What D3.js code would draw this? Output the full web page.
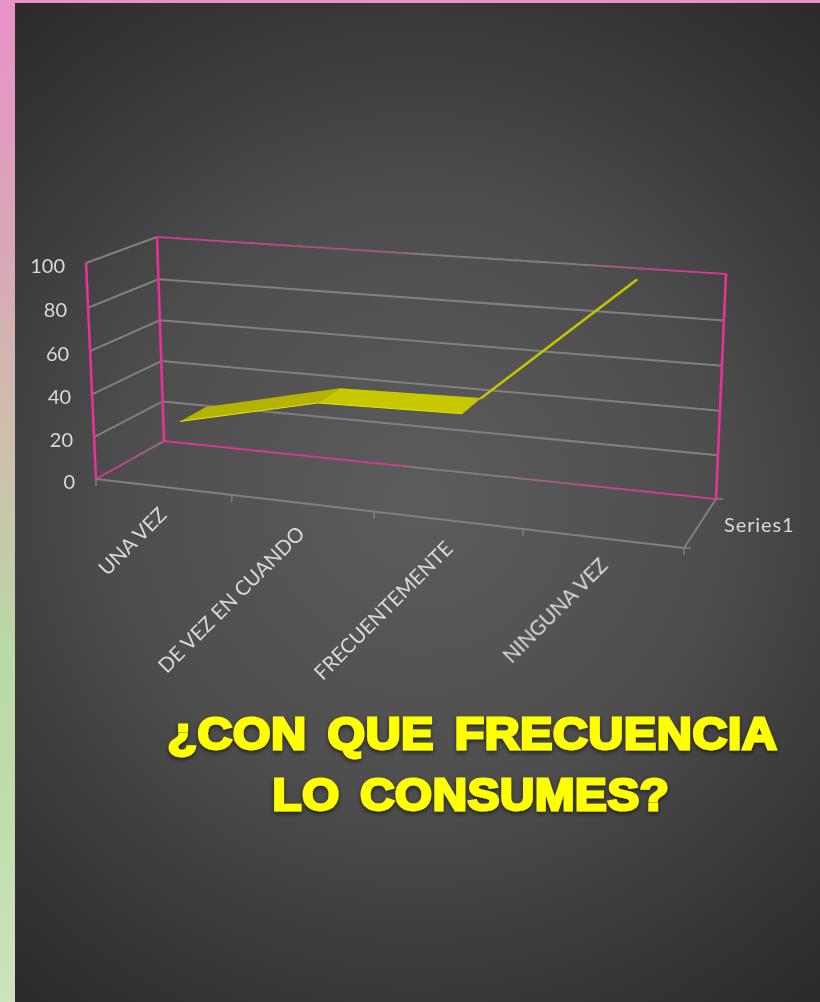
<!DOCTYPE html>
<html><head><meta charset="utf-8">
<script src="https://cdn.jsdelivr.net/npm/d3@7/dist/d3.min.js"></script>
<style>html,body{margin:0;padding:0;background:#333;overflow:hidden}svg{display:block}</style>
</head><body><svg id="c" width="820" height="1002"></svg>
<script>
const categories = ["UNA VEZ","DE VEZ EN CUANDO","FRECUENTEMENTE","NINGUNA VEZ"];
const values = [26,41,42.5,100];
const yTicks = [0,20,40,60,80,100];
const seriesName = "Series1";
const titleLines = ["¿CON QUE FRECUENCIA","LO CONSUMES?"];

const svg = d3.select("#c");
const defs = svg.append("defs");

const strip = defs.append("linearGradient").attr("id","strip").attr("x1",0).attr("y1",0).attr("x2",0).attr("y2",1);
[[0,"#ea92c8"],[.25,"#d9a8b8"],[.41,"#cfbcac"],[.56,"#c4ccaa"],[.64,"#b9daa4"],[.8,"#bfdcaa"],[1,"#cde4bd"]].forEach(d=>strip.append("stop").attr("offset",d[0]).attr("stop-color",d[1]));
const bg = defs.append("radialGradient").attr("id","bg").attr("gradientUnits","userSpaceOnUse").attr("cx",417).attr("cy",500).attr("r",640);
[[0,"#5c5c5c"],[.45,"#4e4e4e"],[.8,"#363636"],[1,"#2b2b2b"]].forEach(d=>bg.append("stop").attr("offset",d[0]).attr("stop-color",d[1]));
svg.append("rect").attr("width",820).attr("height",1002).attr("fill","url(#strip)");
svg.append("rect").attr("width",820).attr("height",3).attr("fill","#ea92c8");
svg.append("rect").attr("x",15).attr("y",3).attr("width",805).attr("height",999).attr("fill","url(#bg)");

const soft=defs.append("filter").attr("id","soft").attr("x","-5%").attr("y","-5%").attr("width","110%").attr("height","110%");
soft.append("feGaussianBlur").attr("stdDeviation",.45);
const chart=svg.append("g").attr("filter","url(#soft)");

const FL0=[96,479], FL1=[86,263], FR0=[684,548], FR1=[695,310];
const BL0=[164,441], BL1=[157,237], BR0=[716,499], BR1=[726,274];
const lerp=(a,b,t)=>[a[0]+(b[0]-a[0])*t,a[1]+(b[1]-a[1])*t];

const uScale=d3.scaleLinear().domain([0,1,2,3,4]).range([0,.231,.473,.726,1]);
const vScale=d3.scaleLinear().domain(yTicks).range([0,.194,.392,.592,.793,1]);
function project(cat,val,w){
  const u=uScale(cat), v=vScale(val);
  const f=lerp(lerp(FL0,FR0,u),lerp(FL1,FR1,u),v);
  const b=lerp(lerp(BL0,BR0,u),lerp(BL1,BR1,u),v);
  return lerp(f,b,w);
}
const line=d3.line();
const GREY="#808080", PINK="#e8309a";
const seg=(a,b,stroke,w=2)=>chart.append("path").attr("d",line([a,b])).attr("fill","none").attr("stroke",stroke).attr("stroke-width",w);
function fade(a,b,stops,w=2){
  const col=d3.scaleLinear().domain(stops.map(s=>s[0])).range(stops.map(s=>s[1])).interpolate(d3.interpolateRgb);
  const n=60;
  d3.range(n).forEach(i=>{
    chart.append("path").attr("d",line([lerp(a,b,i/n),lerp(a,b,(i+1)/n+.002)])).attr("fill","none")
      .attr("stroke",col((i+.5)/n)).attr("stroke-width",w);
  });
}

yTicks.slice(1,-1).forEach(t=>{
  seg(project(0,t,0),project(0,t,1),GREY,2);
  seg(project(0,t,1),project(4,t,1),GREY,2);
});
seg(FL1,BL1,GREY,2);
fade(BL1,BR1,[[0,"#d03c90"],[.4,"#a85288"],[.46,GREY],[.72,GREY],[.85,"#b84c8c"],[1,PINK]],1.8);
fade(BL0,BR0,[[0,PINK],[.42,"#c8408c"],[.46,GREY],[.6,GREY],[.75,"#b84c8c"],[1,PINK]],1.8);
fade(FL0,BL0,[[0,PINK],[.55,"#b44e8c"],[1,GREY]],2);
seg(FL0,FR0,GREY,2);
seg(FR0,BR0,GREY,2);
seg(FL0,FL1,PINK,2.6);
seg(BL0,BL1,PINK,2.6);
seg(BR0,BR1,PINK,2.6);

d3.range(0,5).forEach(i=>{const p=project(i,0,0);seg(p,[p[0],p[1]+7],GREY,1.5);});
seg(FR0,[FR0[0]+7,FR0[1]],GREY,1.5);
seg(BR0,[BR0[0]+7,BR0[1]],GREY,1.5);

const depthFront=.28, depthBack=.68;
const catPos=categories.map((_,i)=>i+.5);
const front=values.map((v,i)=>project(catPos[i],v,depthFront));
const back=values.map((v,i)=>project(catPos[i],v,depthBack));
const shades=["#b4b400","#c8c800"];
[0,1].forEach(i=>{
  chart.append("path").attr("d",line([front[i],back[i],back[i+1],front[i+1]])+"Z").attr("fill",shades[i]);
  chart.append("path").attr("d",line([front[i],front[i+1]])).attr("fill","none").attr("stroke","#e6e600").attr("stroke-width",1);
});
chart.append("path").attr("d",line([back[2],back[3]])).attr("fill","none").attr("stroke","#c4c400").attr("stroke-width",2.6).attr("stroke-linecap","round");

chart.selectAll(".yl").data(yTicks).join("text").attr("class","yl")
  .attr("x",d=>project(0,d,0)[0]-21).attr("y",d=>project(0,d,0)[1]+2.5)
  .attr("dy","0.35em").attr("text-anchor","end")
  .attr("font-family","Lato").attr("font-size",20).attr("fill","#d9d9d9").text(d=>d);

const lx=d3.scaleLinear().domain(catPos).range([168,306,454,609]);
const ly=d3.scaleLinear().domain(catPos).range([516,535,550,567]);
chart.selectAll(".xl").data(categories).join("text").attr("class","xl")
  .attr("transform",(d,i)=>`translate(${lx(catPos[i])},${ly(catPos[i])}) rotate(-45)`)
  .attr("text-anchor","end").attr("font-family","Lato").attr("font-size",20.4).attr("fill","#d9d9d9").text(d=>d);

chart.append("text").attr("x",724).attr("y",532).attr("font-family","Lato").attr("font-size",20)
  .attr("letter-spacing",.9).attr("fill","#d9d9d9").text(seriesName);

const sh=defs.append("filter").attr("id","sh").attr("x","-5%").attr("y","-20%").attr("width","110%").attr("height","140%");
sh.append("feDropShadow").attr("dx",0).attr("dy",2).attr("stdDeviation",2).attr("flood-color","#000").attr("flood-opacity",.6);
const titleX=[472.5,471], titleScale=[1.095,1.078];
svg.selectAll(".t").data(titleLines).join("text").attr("class","t")
  .attr("transform",(d,i)=>`translate(${titleX[i]},${749+i*61}) scale(${titleScale[i]},1)`).attr("text-anchor","middle")
  .attr("font-family","Liberation Sans").attr("font-weight","bold").attr("font-size",44)
  .attr("letter-spacing",.65).attr("word-spacing",6)
  .attr("fill","#ffff00").attr("stroke","#ffff00").attr("stroke-width",2.8).attr("stroke-linejoin","miter").attr("stroke-miterlimit",3).attr("filter","url(#sh)").text(d=>d);
</script></body></html>
